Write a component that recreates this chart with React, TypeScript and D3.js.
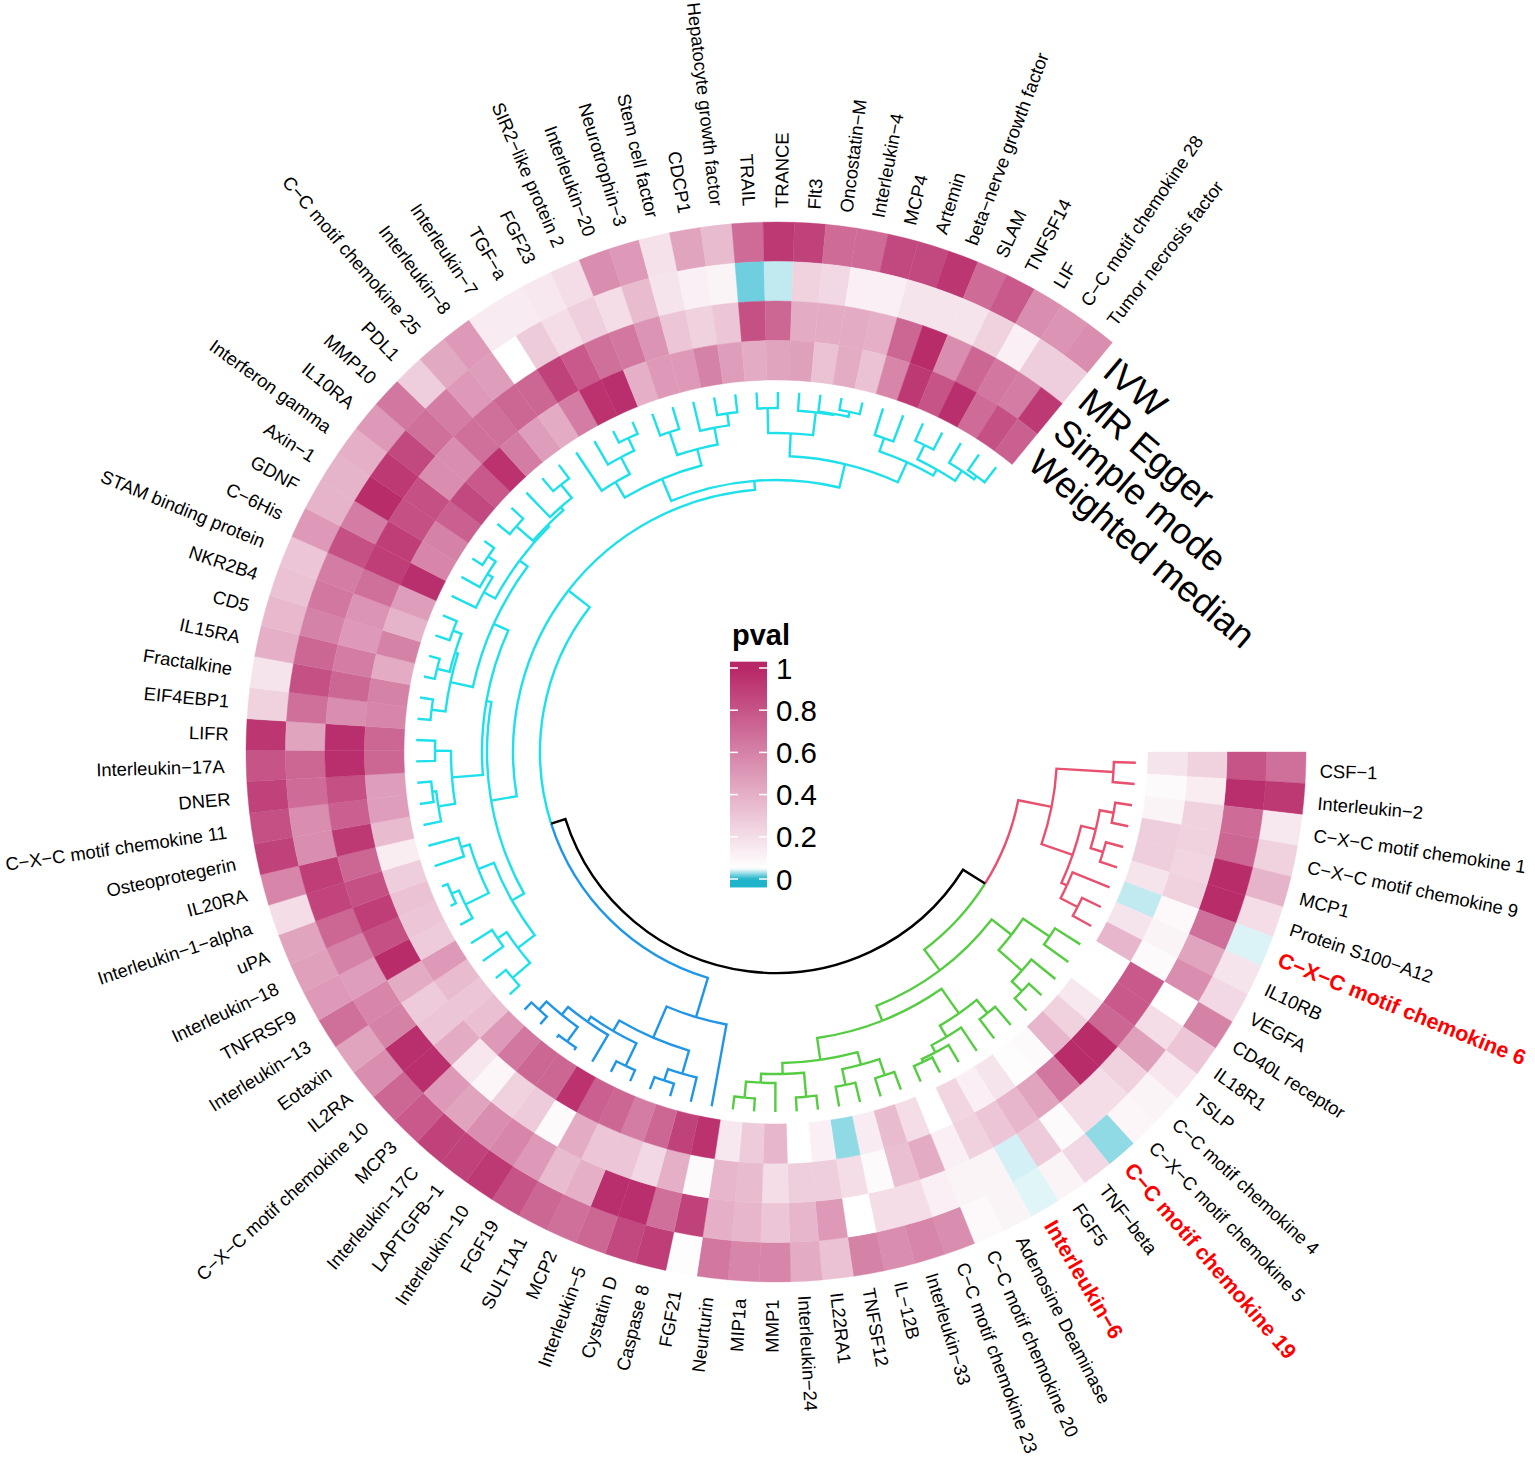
import React from "react";
import * as d3 from "d3";

const labels = ["CSF−1","Interleukin−2","C−X−C motif chemokine 1","C−X−C motif chemokine 9","MCP1","Protein S100−A12","C−X−C motif chemokine 6","IL10RB","VEGFA","CD40L receptor","IL18R1","TSLP","C−C motif chemokine 4","C−X−C motif chemokine 5","C−C motif chemokine 19","TNF−beta","FGF5","Interleukin−6","Adenosine Deaminase","C−C motif chemokine 20","C−C motif chemokine 23","Interleukin−33","IL−12B","TNFSF12","IL22RA1","Interleukin−24","MMP1","MIP1a","Neurturin","FGF21","Caspase 8","Cystatin D","Interleukin−5","MCP2","SULT1A1","FGF19","Interleukin−10","LAPTGFB−1","Interleukin−17C","MCP3","C−X−C motif chemokine 10","IL2RA","Eotaxin","Interleukin−13","TNFRSF9","Interleukin−18","uPA","Interleukin−1−alpha","IL20RA","Osteoprotegerin","C−X−C motif chemokine 11","DNER","Interleukin−17A","LIFR","EIF4EBP1","Fractalkine","IL15RA","CD5","NKR2B4","STAM binding protein","C−6His","GDNF","Axin−1","Interferon gamma","IL10RA","MMP10","PDL1","C−C motif chemokine 25","Interleukin−8","Interleukin−7","TGF−a","FGF23","SIR2−like protein 2","Interleukin−20","Neurotrophin−3","Stem cell factor","CDCP1","Hepatocyte growth factor","TRAIL","TRANCE","Flt3","Oncostatin−M","Interleukin−4","MCP4","Artemin","beta−nerve growth factor","SLAM","TNFSF14","LIF","C−C motif chemokine 28","Tumor necrosis factor"];

const highlighted = ["C−X−C motif chemokine 6","C−C motif chemokine 19","Interleukin−6"];

const ivw = [.68,.92,.15,.25,.38,.2,.042,.17,.22,.6,.3,.16,.1,.09,.025,.22,.1,.043,.1,.08,.55,.58,.55,.6,.32,.42,.58,.58,.65,.06,.9,.85,.72,.68,.72,.8,.92,.88,.88,.78,.72,.55,.45,.68,.5,.47,.45,.2,.58,.88,.82,.88,.8,.93,.25,.17,.4,.36,.32,.3,.5,.38,.38,.4,.5,.65,.27,.43,.5,.14,.14,.15,.2,.55,.5,.18,.45,.35,.7,.92,.88,.7,.7,.85,.85,.93,.7,.78,.55,.52,.55];
const egger = [.8,.97,.7,.72,.98,.98,.68,.45,.55,.05,.2,.47,.25,.2,.2,.07,.28,.04,.1,.1,.12,.2,.2,.05,.5,.37,.3,.37,.4,.88,.68,.97,.97,.4,.35,.5,.58,.55,.45,.5,.97,.97,.6,.58,.48,.6,.72,.87,.9,.55,.55,.7,.72,.45,.68,.82,.72,.6,.65,.62,.82,.62,.98,.92,.85,.68,.62,.5,.48,.05,.28,.2,.26,.2,.35,.17,.12,.1,.018,.036,.25,.22,.12,.12,.17,.17,.17,.25,.12,.27,.27];
const simple = [.25,.13,.25,.25,.23,.25,.08,.1,.07,.78,.78,.72,.98,.98,.65,.45,.37,.3,.25,.12,.42,.33,.07,.2,.27,.27,.2,.35,.37,.07,.4,.22,.3,.3,.42,.07,.28,.25,.09,.16,.42,.3,.28,.42,.98,.82,.9,.82,.72,.92,.75,.82,.97,.97,.55,.72,.62,.5,.52,.68,.9,.9,.82,.82,.55,.55,.68,.68,.72,.72,.88,.78,.68,.65,.52,.3,.25,.3,.82,.72,.42,.42,.42,.4,.72,.98,.55,.72,.65,.62,.92];
const weightedMedian = [.17,.07,.1,.27,.27,.17,.036,.17,.37,.05,.05,.15,.25,.37,.07,.06,.17,.12,.23,.05,.2,.35,.14,.025,.12,.05,.37,.28,.15,.95,.88,.72,.62,.72,.75,.95,.72,.72,.65,.5,.33,.3,.35,.5,.28,.3,.32,.27,.13,.35,.48,.48,.72,.72,.58,.6,.42,.6,.38,.48,.97,.58,.6,.75,.85,.78,.95,.62,.48,.42,.62,.95,.97,.4,.5,.5,.6,.48,.42,.45,.47,.32,.42,.32,.58,.92,.8,.97,.7,.82,.75];

const ringNames = ["IVW","MR Egger","Simple mode","Weighted median"];
const rings = [ivw, egger, simple, weightedMedian];

const legendTicks = [0,.2,.4,.6,.8,1];

type Tree = number | { h: number; children: [Tree, Tree] };
const N = (h: number, a: Tree, b: Tree): Tree => ({ h, children: [a, b] });

const redTree = N(79, N(22,0,1), N(46, N(31,N(17,2,3),N(18,4,5)), N(40,6,N(21,7,8))));
const greenTree = N(87,
  N(62,N(30,9,10),N(31,11,N(17,12,13))),
  N(71,
    N(41,N(24,14,15),N(28,16,N(20,17,N(17,18,19)))),
    N(49,N(36,N(19,20,21),N(20,22,23)),N(38,N(14,24,25),N(29,26,N(13,27,28))))));
const blueTree = N(83, 29, N(49, N(25,30,N(13,31,32)), N(37,N(12,33,34),N(31,35,N(21,N(3,36,37),N(10,38,39))))));
const cyanLower = N(57, N(36,N(13,40,41),N(25,42,43)), N(40,N(14,44,N(6,45,46)),N(31,47,48)));
const cyanMiddle = N(66,
  N(35,N(18,49,N(14,50,51)),N(19,52,53)),
  N(50,
    N(27,N(13,54,55),N(24,N(11,56,57),N(15,58,59))),
    N(40,N(27,60,N(21,61,N(12,62,63))),N(38,N(16,64,65),N(34,66,N(17,67,68))))));
const cyanUpperLeft = N(64, N(46,69,N(27,70,N(13,71,72))), N(47,N(23,73,74),N(30,75,N(18,76,77))));
const cyanUpperRight = N(64,
  N(41,N(16,78,79),N(18,80,N(17,81,N(12,82,83)))),
  N(42,N(28,84,85),N(35,N(19,86,87),N(23,88,N(19,89,90)))));
const cyanTree = N(97, N(71,cyanLower,cyanMiddle), N(88,cyanUpperLeft,cyanUpperRight));
const treeRoot = N(139, N(113,redTree,greenTree), N(124,blueTree,cyanTree));

const groupStarts = [0,9,29,40];
const groupColors = ["#E8506F","#55CC42","#2196E6","#1DE0EA"];

const CX = 776, CY = 752;
const sectorDeg = d3.scaleLinear().domain([0, labels.length]).range([0, 309.4]);
const rad = (d: number) => (d * Math.PI) / 180;
const ringScale = d3.scaleLinear().domain([0, 4]).range([530, 372]);
const treeR = d3.scaleLinear().domain([0, 139]).range([360, 221]);
const color = d3.scaleLinear<string>().domain([0, .05, 1]).range(["#1FB4CB", "#FFFFFF", "#B72767"]).clamp(true);
const legendY = d3.scaleLinear().domain([0, 1]).range([879, 668]);
const FONT = "'Liberation Sans', Arial, sans-serif";

function buildTree() {
  const root: any = d3.hierarchy<Tree>(treeRoot, (d) => (typeof d === "number" ? null : (d.children as any)));
  root.eachAfter((n: any) => {
    if (n.children) {
      n.theta = (n.children[0].theta + n.children[1].theta) / 2;
      n.r = treeR((n.data as any).h);
      n.groups = new Set(n.children.flatMap((c: any) => [...c.groups]));
    } else {
      n.theta = sectorDeg(n.data + 0.5);
      n.r = treeR(0);
      n.groups = new Set([d3.bisectRight(groupStarts, n.data) - 1]);
    }
  });
  return root;
}

export default function App() {
  const cellArc = d3.arc<any>();
  const root = buildTree();
  const edges = root.descendants().filter((n: any) => n.parent).map((n: any) => {
    const p = d3.path();
    const pr = n.parent.r;
    p.moveTo(CX + pr * Math.cos(rad(n.parent.theta)), CY + pr * Math.sin(rad(n.parent.theta)));
    p.arc(CX, CY, pr, rad(n.parent.theta), rad(n.theta), n.theta < n.parent.theta);
    p.lineTo(CX + n.r * Math.cos(rad(n.theta)), CY + n.r * Math.sin(rad(n.theta)));
    const g = [...n.groups];
    return { d: p.toString(), stroke: g.length === 1 ? groupColors[g[0] as number] : "#000000" };
  });
  const legendTop = 1.03, legendBottom = -0.04;
  const legendStops = d3.range(0, 1.0001, 0.01).map((f) => {
    const v = legendTop + (legendBottom - legendTop) * f;
    return { f, c: color(v) };
  });
  const endDeg = sectorDeg(labels.length);

  return (
    <svg width={1535} height={1462} style={{ position: "absolute", left: 0, top: 0, display: "block", background: "#fff" }} fontFamily={FONT}>
      <defs>
        <linearGradient id="legendGrad" x1="0" y1="0" x2="0" y2="1">
          {legendStops.map((s) => (
            <stop key={s.f} offset={s.f} stopColor={s.c} />
          ))}
        </linearGradient>
      </defs>
      <g transform={`translate(${CX},${CY})`}>
        {rings.map((values, ri) =>
          values.map((v, k) => {
            const d = cellArc({
              innerRadius: ringScale(ri + 1),
              outerRadius: ringScale(ri),
              startAngle: rad(sectorDeg(k) + 90),
              endAngle: rad(sectorDeg(k + 1) + 90),
            }) as string;
            const c = color(v);
            return <path key={`${ri}-${k}`} d={d} fill={c} stroke={c} strokeWidth={0.4} />;
          })
        )}
      </g>
      {edges
        .sort((a: any, b: any) => (a.stroke === "#000000" ? 1 : 0) - (b.stroke === "#000000" ? 1 : 0))
        .map((e: any, i: number) => (
          <path key={i} d={e.d} fill="none" stroke={e.stroke} strokeWidth={2.4} />
        ))}
      {labels.map((name, k) => {
        const th = sectorDeg(k + 0.5);
        const flip = th > 90 && th < 270;
        const hi = highlighted.includes(name);
        const extra = 0.38 * name.length * (th > 180 ? 0.3 + 0.7 * Math.abs(Math.cos(rad(th))) : 1);
        const r = flip ? 546 + extra : 544;
        const pos = th > 130 && th < 230 ? th : th + 0.3;
        const x = CX + r * Math.cos(rad(pos));
        const y = CY + r * Math.sin(rad(pos));
        return (
          <text
            key={name}
            transform={`translate(${x},${y}) rotate(${flip ? th + 180 : th})`}
            textAnchor={flip ? "end" : "start"}
            dominantBaseline="central"
            fontSize={hi ? 21.5 : 18.4}
            fontWeight={hi ? "bold" : "normal"}
            fill={hi ? "#FF0000" : "#000000"}
          >
            {name}
          </text>
        );
      })}
      {ringNames.map((name, ri) => {
        const r = ringScale(ri + 0.5);
        const t = rad(endDeg);
        const off = 12;
        const x = CX + r * Math.cos(t) - off * Math.sin(t);
        const y = CY + r * Math.sin(t) + off * Math.cos(t);
        return (
          <text key={name} transform={`translate(${x},${y}) rotate(${endDeg + 91})`} dominantBaseline="central" fontSize={36.5} fill="#000">
            {name}
          </text>
        );
      })}
      <text x={732} y={645} fontSize={29} fontWeight="bold" fill="#000">pval</text>
      <rect x={730} width={37} y={legendY(legendTop)} height={legendY(legendBottom) - legendY(legendTop)} fill="url(#legendGrad)" />
      {legendTicks.map((t) => (
        <g key={t}>
          <line x1={730} x2={738} y1={legendY(t)} y2={legendY(t)} stroke="#fff" strokeWidth={1.5} />
          <line x1={759} x2={767} y1={legendY(t)} y2={legendY(t)} stroke="#fff" strokeWidth={1.5} />
          <text x={776} y={legendY(t)} dominantBaseline="central" fontSize={29.5} fill="#000">{String(t)}</text>
        </g>
      ))}
    </svg>
  );
}
